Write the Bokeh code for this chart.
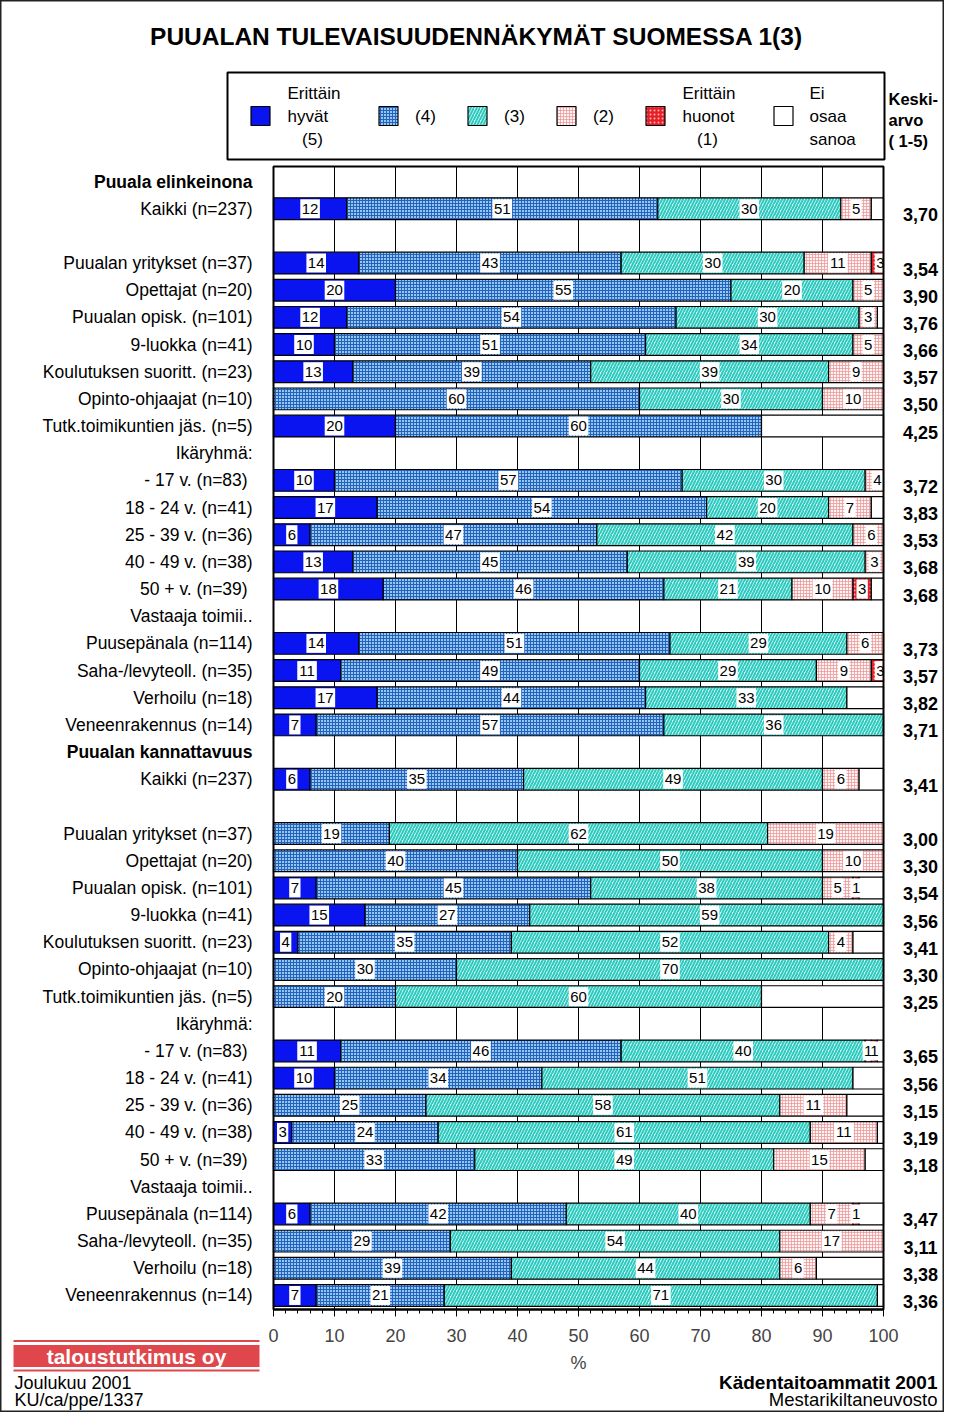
import numpy as np
from bokeh.plotting import figure
from bokeh.models import Range1d, FixedTicker, ColumnDataSource, Label, BoxAnnotation, LinearAxis
from bokeh.embed import file_html
from bokeh.resources import INLINE
from bokeh.core.properties import value

# ---------------- data ----------------
TITLE = "PUUALAN TULEVAISUUDENNÄKYMÄT SUOMESSA 1(3)"

ROW_LABELS = [
    "Puuala elinkeinona", "Kaikki (n=237)", "",
    "Puualan yritykset (n=37)", "Opettajat (n=20)", "Puualan opisk. (n=101)",
    "9-luokka (n=41)", "Koulutuksen suoritt. (n=23)", "Opinto-ohjaajat (n=10)",
    "Tutk.toimikuntien jäs. (n=5)",
    "Ikäryhmä:", "- 17 v.  (n=83)", "18 - 24 v. (n=41)", "25 - 39 v. (n=36)",
    "40 - 49 v. (n=38)", "50 + v.  (n=39)",
    "Vastaaja toimii..", "Puusepänala (n=114)", "Saha-/levyteoll. (n=35)",
    "Verhoilu (n=18)", "Veneenrakennus (n=14)",
    "Puualan kannattavuus", "Kaikki (n=237)", "",
    "Puualan yritykset (n=37)", "Opettajat (n=20)", "Puualan opisk. (n=101)",
    "9-luokka (n=41)", "Koulutuksen suoritt. (n=23)", "Opinto-ohjaajat (n=10)",
    "Tutk.toimikuntien jäs. (n=5)",
    "Ikäryhmä:", "- 17 v.  (n=83)", "18 - 24 v. (n=41)", "25 - 39 v. (n=36)",
    "40 - 49 v. (n=38)", "50 + v.  (n=39)",
    "Vastaaja toimii..", "Puusepänala (n=114)", "Saha-/levyteoll. (n=35)",
    "Verhoilu (n=18)", "Veneenrakennus (n=14)",
]
BOLD_LABELS = ["Puuala elinkeinona", "Puualan kannattavuus"]

V5 = [None, 12, None, 14, 20, 12, 10, 13, 0, 20, None, 10, 17, 6, 13, 18, None, 14, 11, 17, 7,
      None, 6, None, 0, 0, 7, 15, 4, 0, 0, None, 11, 10, 0, 3, 0, None, 6, 0, 0, 7]
V4 = [None, 51, None, 43, 55, 54, 51, 39, 60, 60, None, 57, 54, 47, 45, 46, None, 51, 49, 44, 57,
      None, 35, None, 19, 40, 45, 27, 35, 30, 20, None, 46, 34, 25, 24, 33, None, 42, 29, 39, 21]
V3 = [None, 30, None, 30, 20, 30, 34, 39, 30, 0, None, 30, 20, 42, 39, 21, None, 29, 29, 33, 36,
      None, 49, None, 62, 50, 38, 59, 52, 70, 60, None, 40, 51, 58, 61, 49, None, 40, 54, 44, 71]
V2 = [None, 5, None, 11, 5, 3, 5, 9, 10, 0, None, 4, 7, 6, 3, 10, None, 6, 9, 0, 0,
      None, 6, None, 19, 10, 5, 0, 4, 0, 0, None, 1, 0, 11, 11, 15, None, 7, 17, 6, 0]
V1 = [None, 0, None, 3, 0, 0, 0, 0, 0, 0, None, 0, 0, 0, 0, 3, None, 0, 3, 0, 0,
      None, 0, None, 0, 0, 1, 0, 0, 0, 0, None, 1, 0, 0, 0, 0, None, 1, 0, 0, 0]
EOS = [None, 2, None, 0, 0, 1, 0, 0, 0, 20, None, 0, 2, 0, 0, 2, None, 0, 0, 6, 0,
       None, 4, None, 0, 0, 4, 0, 5, 0, 20, None, 1, 5, 6, 1, 3, None, 4, 0, 11, 1]

MEANS = [None, 3.70, None, 3.54, 3.90, 3.76, 3.66, 3.57, 3.50, 4.25, None, 3.72, 3.83, 3.53, 3.68, 3.68,
         None, 3.73, 3.57, 3.82, 3.71, None, 3.41, None, 3.00, 3.30, 3.54, 3.56, 3.41, 3.30, 3.25,
         None, 3.65, 3.56, 3.15, 3.19, 3.18, None, 3.47, 3.11, 3.38, 3.36]

X_TICKS = [0, 10, 20, 30, 40, 50, 60, 70, 80, 90, 100]
X_MINOR = list(range(0, 101, 2))

LEGEND_LINES = [["Erittäin", "hyvät", "(5)"], ["(4)"], ["(3)"], ["(2)"],
                ["Erittäin", "huonot", "(1)"], ["Ei", "osaa", "sanoa"]]
MEAN_HEAD = ["Keski-", "arvo", "( 1-5)"]
FOOT_LEFT = ["Joulukuu 2001", "KU/ca/ppe/1337"]
FOOT_RIGHT = ["Kädentaitoammatit 2001", "Mestarikiltaneuvosto"]
LOGO = "taloustutkimus oy"

# ---------------- styles / layout ----------------
FONT = "Liberation Sans"
STYLES = [
    dict(fill_color="#0a14f0"),
    dict(fill_color="#94c7ef", hatch_pattern="cross", hatch_color="#2462bd", hatch_scale=3, hatch_weight=1),
    dict(fill_color="#e0faf7", hatch_pattern="right_diagonal_line", hatch_color="#2ccabf", hatch_scale=6, hatch_weight=2),
    dict(fill_color="#fff4f4", hatch_pattern="cross", hatch_color="#eb9a9a", hatch_scale=3, hatch_weight=0.8),
    dict(fill_color="#e3202a", hatch_pattern="dot", hatch_color="#ffb0b0", hatch_scale=4, hatch_weight=1),
    dict(fill_color="white"),
]

W, H = 944, 1412
FX0, FX1 = 273, 883           # canvas x of data 0 and 100
ROW0, ROWH = 181.0, 27.17     # canvas y of first row, row pitch
FY0, FY1 = 166, 1309          # chart frame top / bottom (canvas y)


def dx(px):
    return (px - FX0) * 100.0 / (FX1 - FX0)


def dy(py):
    return (py - ROW0) / ROWH


p = figure(width=W, height=H, output_backend="svg", toolbar_location=None,
           x_range=Range1d(dx(0), dx(W)), y_range=Range1d(dy(H), dy(0)),
           x_axis_type=None, y_axis_type=None,
           min_border=0, min_border_left=0, min_border_right=0,
           min_border_top=0, min_border_bottom=0)
p.outline_line_color = "#222222"
p.outline_line_width = 2
p.background_fill_color = "white"
p.border_fill_color = "white"
p.xgrid.visible = False
p.ygrid.visible = False

ticker = FixedTicker(ticks=X_TICKS, minor_ticks=X_MINOR)
ax = LinearAxis(ticker=ticker, fixed_location=dy(FY1), bounds=(0, 100))
ax.axis_line_width = 2
ax.major_tick_in = 0
ax.major_tick_out = 7
ax.minor_tick_in = 0
ax.minor_tick_out = 4
ax.major_label_text_font = FONT
ax.major_label_text_font_size = "18px"
ax.major_label_standoff = 12
ax.axis_label = "%"
ax.axis_label_text_font = FONT
ax.axis_label_text_font_size = "18px"
ax.axis_label_text_font_style = "normal"
ax.axis_label_standoff = 8
p.add_layout(ax, "below")

# vertical grid lines of the chart area
p.segment(x0=X_TICKS, x1=X_TICKS, y0=[dy(FY0)] * len(X_TICKS), y1=[dy(FY1)] * len(X_TICKS),
          line_color="black", line_width=1)

# ---------------- bars ----------------
bar_rows = np.array([i for i, v in enumerate(V5) if v is not None])
left = np.zeros(len(bar_rows))
lab_x, lab_y, lab_t = [], [], []
for k, (s, st) in enumerate(zip([V5, V4, V3, V2, V1, EOS], STYLES)):
    w = np.array([s[i] for i in bar_rows], dtype=float)
    right = left + w
    m = w > 0
    src = ColumnDataSource(dict(y=bar_rows[m], left=left[m], right=np.minimum(right[m], 100)))
    p.hbar(y="y", left="left", right="right", height=0.8, source=src,
           line_color="black", line_width=1.2, **st)
    if k < 5:
        lab_x += list(((left + right) / 2)[m])
        lab_y += list(bar_rows[m])
        lab_t += [str(int(v)) for v in w[m]]
    left = right

lsrc = ColumnDataSource(dict(x=lab_x, y=lab_y, t=lab_t,
                             bw=[8.3 * len(t) + 3 for t in lab_t]))
p.rect(x="x", y="y", width="bw", height=19, width_units="screen", height_units="screen",
       source=lsrc, fill_color="white", line_color=None)
p.text(x="x", y="y", text="t", source=lsrc, text_align="center", text_baseline="middle",
       text_font=value(FONT), text_font_size="15px", text_color="black")

# chart frame
p.quad(left=[0], right=[100], top=[dy(FY0)], bottom=[dy(FY1)], fill_color=None,
       line_color="black", line_width=2)


def lab(x, y, t, align="left", size="17px", style="normal", color="black"):
    p.add_layout(Label(x=dx(x), y=dy(y), text=t, text_align=align, text_baseline="middle",
                       text_font=FONT, text_font_size=size, text_font_style=style, text_color=color))


# ---------------- row labels & means ----------------
for i, t in enumerate(ROW_LABELS):
    if t:
        lab(252, ROW0 + i * ROWH, t, "right", "17.5px", "bold" if t in BOLD_LABELS else "normal")
for i, mval in enumerate(MEANS):
    if mval is not None:
        lab(920, ROW0 + i * ROWH + 6, f"{mval:.2f}".replace(".", ","), "center", "18px", "bold")

# ---------------- title ----------------
lab(476, 36, TITLE, "center", "24.5px", "bold")

# ---------------- legend ----------------
p.add_layout(BoxAnnotation(left=dx(227), right=dx(884), top=dy(72), bottom=dy(159),
                           fill_color=None, line_color="black", line_alpha=1, line_width=2))
sw_cx = [260, 388, 477, 566, 655, 783]
for cx, st in zip(sw_cx, STYLES):
    p.add_layout(BoxAnnotation(left=dx(cx - 9.5), right=dx(cx + 9.5), top=dy(106), bottom=dy(125),
                               line_color="black", line_alpha=1, line_width=1.2, fill_alpha=1,
                               **st))

lab(287, 93, LEGEND_LINES[0][0]); lab(287, 116, LEGEND_LINES[0][1]); lab(312, 139, LEGEND_LINES[0][2], "center")
lab(425, 116, LEGEND_LINES[1][0], "center")
lab(514, 116, LEGEND_LINES[2][0], "center")
lab(603, 116, LEGEND_LINES[3][0], "center")
lab(682, 93, LEGEND_LINES[4][0]); lab(682, 116, LEGEND_LINES[4][1]); lab(707, 139, LEGEND_LINES[4][2], "center")
lab(809, 93, LEGEND_LINES[5][0]); lab(809, 116, LEGEND_LINES[5][1]); lab(809, 139, LEGEND_LINES[5][2])
lab(888, 98, MEAN_HEAD[0], size="16.5px", style="bold")
lab(888, 119, MEAN_HEAD[1], size="16.5px", style="bold")
lab(888, 140, MEAN_HEAD[2], size="16.5px", style="bold")

# ---------------- footer ----------------
RED = "#e0474c"
for top, bot in [(1339.5, 1341.5), (1344.5, 1366.5), (1369, 1371)]:
    p.add_layout(BoxAnnotation(left=dx(13), right=dx(259), top=dy(top), bottom=dy(bot),
                               fill_color=RED, fill_alpha=1, line_color=None))
lab(136, 1355.5, LOGO, "center", "21px", "bold", "white")
lab(14, 1382, FOOT_LEFT[0], size="18px"); lab(14, 1399, FOOT_LEFT[1], size="18px")
lab(937, 1382, FOOT_RIGHT[0], "right", "19px", "bold"); lab(937, 1399, FOOT_RIGHT[1], "right", "18.5px")

open("out.html", "w").write(file_html(p, INLINE))
